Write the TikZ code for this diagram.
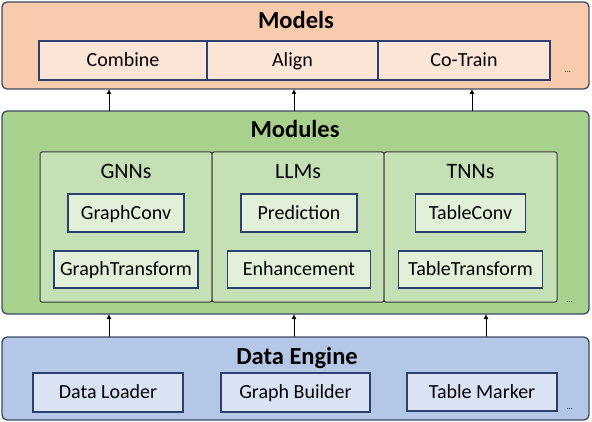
\documentclass[tikz,border=0pt]{standalone}
\usepackage{fontspec}
\setmainfont{Carlito}
\usetikzlibrary{arrows.meta, positioning, calc}

\definecolor{layerline}{HTML}{3B4A63}
\definecolor{cellline}{HTML}{2C4170}
\definecolor{groupline}{HTML}{3A3A3A}
\definecolor{modelfill}{HTML}{F8CBAD}
\definecolor{modelcell}{HTML}{FBE5D6}
\definecolor{modulefill}{HTML}{A9D18E}
\definecolor{modulegroup}{HTML}{C5E0B4}
\definecolor{modulecell}{HTML}{E2F0D9}
\definecolor{datafill}{HTML}{B4C7E7}
\definecolor{datacell}{HTML}{DAE3F3}

\begin{document}
\begin{tikzpicture}[
    x=1pt, y=-1pt,
    layer/.style={rectangle, draw=layerline, line width=1.3pt, rounded corners=5pt,
      anchor=north west, minimum width=587pt, inner sep=0pt, outer sep=0pt},
    layertitle/.style={font=\fontsize{24.5}{26}\selectfont\bfseries, inner sep=0pt,
      text height=15.5pt, text depth=0pt},
    group/.style={rectangle, draw=groupline, line width=1pt, rounded corners=2pt,
      fill=modulegroup, anchor=north west, minimum height=150pt, inner sep=0pt, outer sep=0pt},
    grouptitle/.style={font=\fontsize{22}{24}\selectfont, inner sep=0pt,
      text height=14pt, text depth=0pt},
    cell/.style={rectangle, draw=cellline, line width=1.3pt, minimum height=38pt,
      inner sep=0pt, outer sep=0pt, text height=12.7pt, text depth=0pt,
      font=\fontsize{20}{22}\selectfont},
    more/.style={font=\fontsize{8}{9}\selectfont, inner sep=0pt},
    arrow/.style={-{Latex[length=5pt, width=5pt]}, line width=0.9pt}
  ]
    \useasboundingbox (0,0) rectangle (592,422);

    % Models
    \node[layer, fill=modelfill, minimum height=87pt] (models) at (2,2) {};
    \node[layertitle] (modelstitle) at (296,21) {Models};
    \node[cell, fill=modelcell, anchor=north west, minimum width=168pt, minimum height=39pt] (combine) at (39,41) {Combine};
    \node[cell, fill=modelcell, right=0pt of combine, minimum width=171pt, minimum height=39pt] (align) {Align};
    \node[cell, fill=modelcell, right=0pt of align, minimum width=172pt, minimum height=39pt] (cotrain) {Co-Train};
    \node[more] (modelsmore) at (568,72) {\ldots};

    % Modules
    \node[layer, fill=modulefill, minimum height=203pt] (modules) at (2,111) {};
    \node[layertitle] (modulestitle) at (295,130) {Modules};
    \node[group, minimum width=172pt] (gnn) at (40,152) {};
    \node[group, minimum width=172pt] (llm) at (212,152) {};
    \node[group, minimum width=173pt] (tnn) at (384,152) {};
    \node[grouptitle] (gnntitle) at ($(gnn.north)+(0,20)$) {GNNs};
    \node[grouptitle] (llmtitle) at ($(llm.north)+(0,20)$) {LLMs};
    \node[grouptitle] (tnntitle) at ($(tnn.north)+(0,20)$) {TNNs};

    \node[cell, fill=modulecell, minimum width=116pt] (graphconv) at ($(gnn.north)+(0,61)$) {GraphConv};
    \node[cell, fill=modulecell, below=19pt of graphconv, minimum width=144pt, minimum height=37pt] (graphtrans) {GraphTransform};
    \node[cell, fill=modulecell, minimum width=116pt] (prediction) at ($(llm.north)+(1,61)$) {Prediction};
    \node[cell, fill=modulecell, below=19pt of prediction, minimum width=143pt, minimum height=37pt] (enhance) {Enhancement};
    \node[cell, fill=modulecell, minimum width=110pt] (tableconv) at ($(tnn.north)+(0,61)$) {TableConv};
    \node[cell, fill=modulecell, below=19pt of tableconv, minimum width=144pt, minimum height=37pt] (tabletrans) {TableTransform};
    \node[more] (modulesmore) at (570,302) {\ldots};

    % Data Engine
    \node[layer, fill=datafill, minimum height=83pt] (data) at (2,337) {};
    \node[layertitle] (datatitle) at (297,357) {Data Engine};
    \node[cell, fill=datacell, minimum width=150pt, minimum height=39pt] (loader) at (108,392.5) {Data Loader};
    \node[cell, fill=datacell, minimum width=149pt, minimum height=39pt] (builder) at (295.5,392.5) {Graph Builder};
    \node[cell, fill=datacell, minimum width=150pt] (marker) at (482,392) {Table Marker};
    \node[more] (datamore) at (570,409) {\ldots};

    % Arrows
    \foreach \x in {109,294,472}
      \draw[arrow] (\x,0 |- modules.north) -- (\x,0 |- models.south);
    \foreach \x in {109,294,486}
      \draw[arrow] (\x,0 |- data.north) -- (\x,0 |- modules.south);
\end{tikzpicture}
\end{document}
